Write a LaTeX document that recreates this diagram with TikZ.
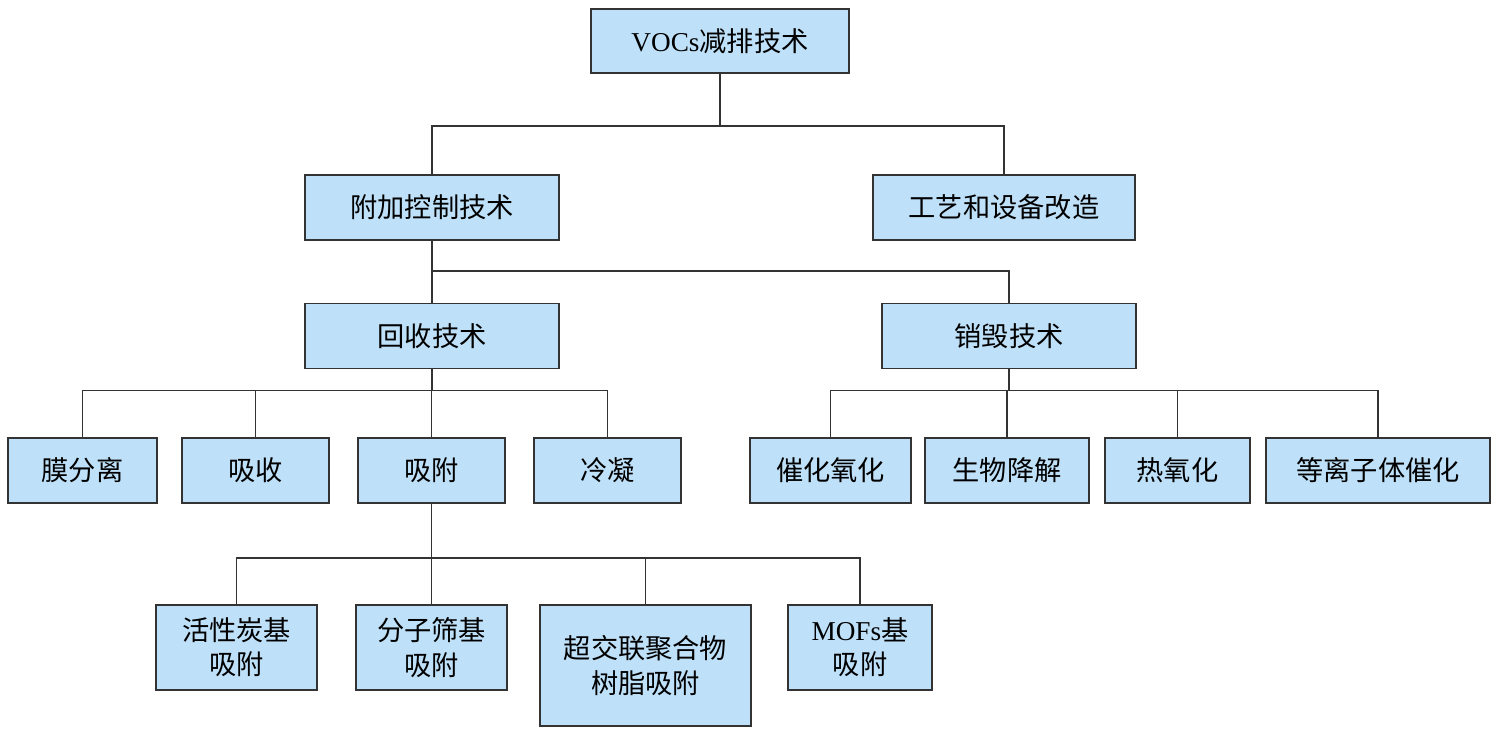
\documentclass[tikz,border=0pt]{standalone}
\usepackage{fontspec}
\setmainfont{Liberation Serif}
\newfontfamily\cjk{Noto Sans CJK SC}
\usepackage{tikz}
\usepackage{xcolor}
\usetikzlibrary{calc, positioning}
\definecolor{boxfill}{HTML}{BEE0F8}
\definecolor{boxline}{HTML}{333333}

\begin{document}
\begin{tikzpicture}[
        box/.style={draw=boxline, line width=1.1pt, fill=boxfill, align=center,
            inner sep=0pt, minimum height=1.3cm,
            font=\fontsize{15.5}{19.5}\selectfont\cjk},
        link/.style={draw=boxline, line width=0.8pt}
    ]
                        \useasboundingbox (0, 0) rectangle (29.94, -14.66);
                        % level 1 and 2
                        \node[box, minimum width=5.16cm, minimum height=1.28cm] (voc) at (14.4, -0.82) {{\rmfamily VOCs}减排技术};
                        \node[box, minimum width=5.08cm] (fujia) at (8.64, -4.15) {附加控制技术};
                        \node[box, minimum width=5.24cm] (gongyi) at (20.08, -4.15) {工艺和设备改造};
                        % level 3
                        \node[box, minimum width=5.08cm] (huishou) at (8.64, -6.72) {回收技术};
                        \node[box, minimum width=5.08cm] (xiaohui) at (20.18, -6.72) {销毁技术};
                        % level 4
                        \node[box, minimum width=2.98cm] (mofen) at (1.65, -9.41) {膜分离};
                        \node[box, minimum width=2.94cm] (xishou) at (5.11, -9.41) {吸收};
                        \node[box, minimum width=2.94cm] (xifu) at (8.63, -9.41) {吸附};
                        \node[box, minimum width=2.94cm] (lengning) at (12.15, -9.41) {冷凝};
                        \node[box, minimum width=3.22cm] (cuihua) at (16.61, -9.41) {催化氧化};
                        \node[box, minimum width=3.28cm] (shengwu) at (20.14, -9.41) {生物降解};
                        \node[box, minimum width=2.9cm] (reyang) at (23.55, -9.41) {热氧化};
                        \node[box, minimum width=4.48cm] (dengli) at (27.56, -9.41) {等离子体催化};
                        % level 5
                        \node[box, minimum width=3.22cm, minimum height=1.7cm] (huoxing) at (4.73, -12.95) {活性炭基\\吸附};
                        \node[box, minimum width=3.02cm, minimum height=1.7cm] (fenzi) at (8.63, -12.95) {分子筛基\\吸附};
                        \node[box, minimum width=4.22cm, minimum height=2.42cm] (chaojiao) at (12.91, -13.31) {超交联聚合物\\树脂吸附};
                        \node[box, minimum width=2.88cm, minimum height=1.7cm] (mofs) at (17.2, -12.95) {{\rmfamily MOFs}基\\吸附};
                        % connectors
                        \draw[link] (voc.south) -- ++(0, -1.04) coordinate (b1);
                        \draw[link] (fujia.north) |- (b1) -| (gongyi.north);
                        \draw[link] (fujia.south) -- ++(0, -0.6) coordinate (b2);
                        \draw[link] (b2) -- (huishou.north);
                        \draw[link] (b2) -| (xiaohui.north);
                        \draw[link] (huishou.south) -- ++(0, -0.42) coordinate (b3);
                        \foreach \n in {mofen, xishou, xifu, lengning}
                            \draw[link] (b3) -| (\n.north);
                        \draw[link] (xiaohui.south) -- ++(0, -0.42) coordinate (b4);
                        \foreach \n in {cuihua, shengwu, reyang, dengli}
                            \draw[link] (b4) -| (\n.north);
                        \draw[link] (xifu.south) -- ++(0, -1.08) coordinate (b5);
                        \foreach \n in {huoxing, fenzi, chaojiao, mofs}
                            \draw[link] (b5) -| (\n.north);
                    \end{tikzpicture}
\end{document}
